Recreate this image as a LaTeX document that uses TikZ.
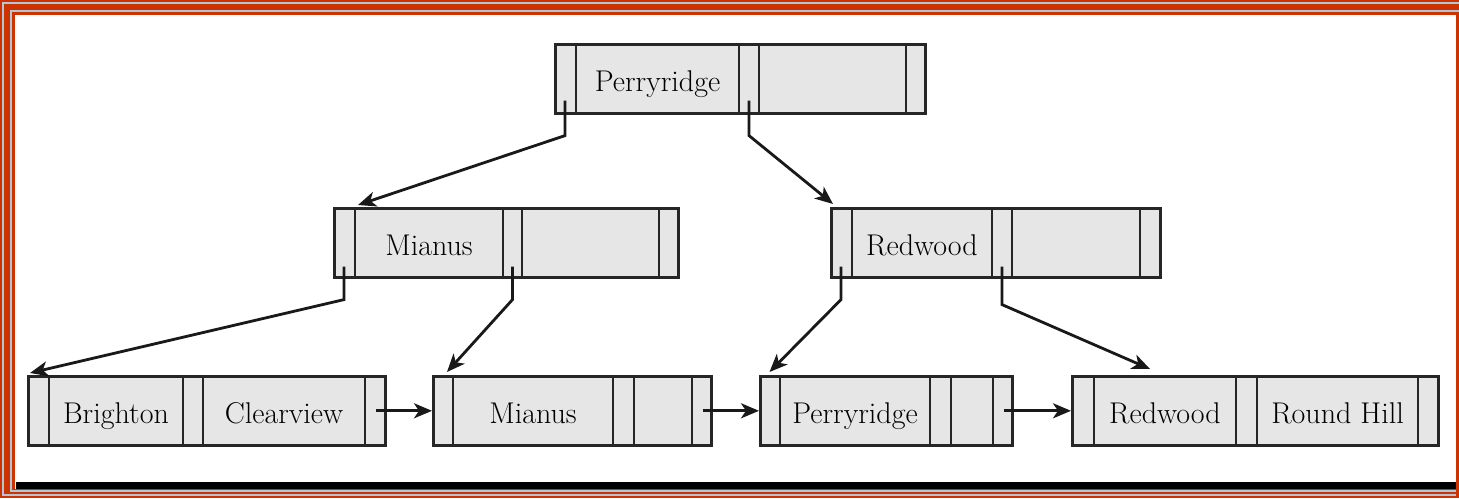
\documentclass[tikz,border=0pt]{standalone}
\usepackage{tikz}
\usetikzlibrary{calc,arrows.meta,positioning,shapes.multipart}
\definecolor{framered}{RGB}{204,51,0}
\definecolor{frameblue}{RGB}{178,198,214}
\definecolor{cellgray}{RGB}{230,230,230}
\newcommand{\keycell}[2]{\makebox[\dimexpr#1-1.3pt\relax]{\rule[-11pt]{0pt}{34.5pt}#2}}

\begin{document}
\begin{tikzpicture}[x=0.5pt,y=-0.5pt,
  bnode/.style={rectangle split,rectangle split horizontal,rectangle split parts=5,
    draw=black!85,fill=cellgray,line width=1.3pt,inner sep=0pt,anchor=north west,
    font=\fontsize{15}{18}\selectfont},
  ptr/.style={line width=1.4pt,black!90,-{Stealth[length=9pt,width=7.5pt,inset=2.5pt]}}]
  \useasboundingbox (0,0) rectangle (1459,498);
  % frame
  \fill[framered] (0,0) rectangle (1459,498);
  \draw[frameblue,line width=1pt] (1459,3)--(3,3)--(3,495)--(1456,495);
  \draw[frameblue,line width=1pt] (1459,11)--(11,11)--(11,490.5)--(1456,490.5);
  \fill[white] (15,15) rectangle (1456,489);
  \fill[black] (16,482) rectangle (1456,489);
  % tree
  \node[bnode] (root) at (554,43) {\keycell{11pt}{}\nodepart{two}\keycell{81.5pt}{Perryridge}\nodepart{three}\keycell{10pt}{}\nodepart{four}\keycell{73.5pt}{}\nodepart{five}\keycell{10.5pt}{}};
  \node[bnode] (mia) at (333,207) {\keycell{11pt}{}\nodepart{two}\keycell{74pt}{Mianus}\nodepart{three}\keycell{9.5pt}{}\nodepart{four}\keycell{68.5pt}{}\nodepart{five}\keycell{10.5pt}{}};
  \node[bnode] (rdw) at (830,207) {\keycell{11pt}{}\nodepart{two}\keycell{70pt}{Redwood}\nodepart{three}\keycell{10pt}{}\nodepart{four}\keycell{64pt}{}\nodepart{five}\keycell{11pt}{}};
  \node[bnode] (l1) at (27,375) {\keycell{11pt}{}\nodepart{two}\keycell{67pt}{Brighton}\nodepart{three}\keycell{10pt}{}\nodepart{four}\keycell{81pt}{Clearview}\nodepart{five}\keycell{11pt}{}};
  \node[bnode] (l2) at (432,375) {\keycell{10.5pt}{}\nodepart{two}\keycell{80pt}{Mianus}\nodepart{three}\keycell{10.5pt}{}\nodepart{four}\keycell{29pt}{}\nodepart{five}\keycell{10.5pt}{}};
  \node[bnode] (l3) at (759,375) {\keycell{10.5pt}{}\nodepart{two}\keycell{75pt}{Perryridge}\nodepart{three}\keycell{10.5pt}{}\nodepart{four}\keycell{21pt}{}\nodepart{five}\keycell{10.5pt}{}};
  \node[bnode] (l4) at (1071,375) {\keycell{11.5pt}{}\nodepart{two}\keycell{71pt}{Redwood}\nodepart{three}\keycell{10.5pt}{}\nodepart{four}\keycell{80.5pt}{Round Hill}\nodepart{five}\keycell{11pt}{}};
  % pointers
  \draw[ptr] ($(root.one south)+(0,7pt)$) -- ++(0,-17.5pt) -- ($(mia.one split north)+(1.5pt,1pt)$);
  \draw[ptr] ($(root.three south)+(0,7pt)$) -- ++(0,-17.5pt) -- ($(rdw.north west)+(1.5pt,1.5pt)$);
  \draw[ptr] ($(mia.one south)+(0,6pt)$) -- ++(0,-16.5pt) -- ($(l1.north west)+(1.5pt,1pt)$);
  \draw[ptr] ($(mia.three south)+(0,6pt)$) -- ++(0,-16.5pt) -- ($(l2.one split north)+(-3pt,1.5pt)$);
  \draw[ptr] ($(rdw.one south)+(0,6pt)$) -- ++(0,-16.5pt) -- ($(l3.one north)+(0,1.5pt)$);
  \draw[ptr] ($(rdw.three south)+(0,6pt)$) -- ++(0,-19pt) -- ($(l4.two north)+(-7.5pt,3pt)$);
  \draw[ptr] (l1.five south |- l1.east) -- (l2.west);
  \draw[ptr] (l2.five south |- l2.east) -- (l3.west);
  \draw[ptr] (l3.five south |- l3.east) -- (l4.west);
\end{tikzpicture}
\end{document}
